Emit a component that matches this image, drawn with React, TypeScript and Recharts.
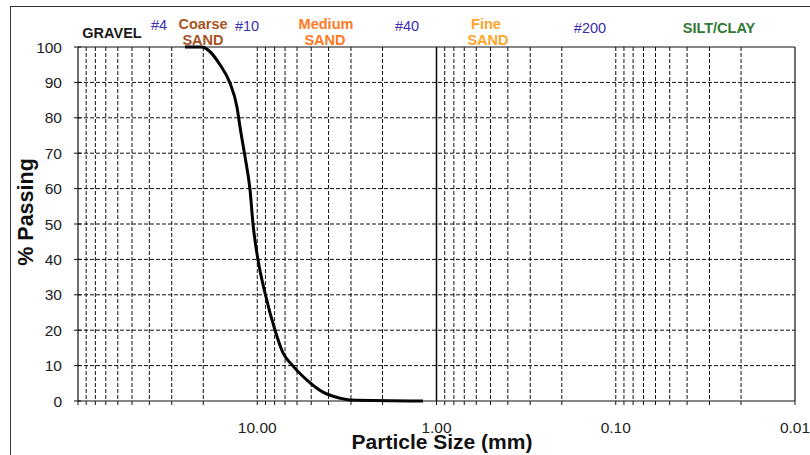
import { LineChart, Line, XAxis, YAxis, CartesianGrid, ReferenceLine } from 'recharts'

// particle size (mm) and % passing
const sizes = [25.3, 20.5, 16.1, 14.2, 12.97, 12.48, 11.7, 10.97, 10.56, 9.9, 9.05, 7.96, 7.18, 6.4, 5.28, 4.3, 3.45, 3.04, 1.19]
const passing = [100, 100, 94.9, 89.8, 83, 77.4, 69, 59.6, 50, 39.8, 30.5, 20, 13.6, 10.2, 5.9, 2.5, 0.8, 0.3, 0]

const decades = [100, 10, 1, 0.1, 0.01]
const decadeLabels = ['', '10.00', '1.00', '0.10', '0.01']
const minorSteps = [2, 3, 4, 5, 6, 7, 8, 9]
const yTicks = [0, 10, 20, 30, 40, 50, 60, 70, 80, 90, 100]

const data = sizes.map((s, i) => ({ size: s, pct: passing[i] }))
const minorTicks = decades.slice(1).flatMap(d => minorSteps.map(m => +(d * m).toPrecision(3)))
const xTicks = [...decades, ...minorTicks].sort((a, b) => b - a)

const W = 810
const H = 455
const PLOT = { left: 78, top: 47, right: 795, bottom: 401 }
const FONT = '"Liberation Sans", Arial, sans-serif'
const DASH = '4 2'

const labelFor = (v: number) => {
  const i = decades.findIndex(d => Math.abs(d - v) < 1e-9)
  return i >= 0 ? decadeLabels[i] : ''
}

// eslint-disable-next-line @typescript-eslint/no-explicit-any
const XTick = (props: any) => {
  const x = props.payload.coordinate
  const label = labelFor(props.payload.value)
  return (
    <g>
      <line x1={x} x2={x} y1={PLOT.bottom} y2={PLOT.bottom + 4} stroke="#111" strokeWidth={1} />
      {label && (
        <text x={x} y={PLOT.bottom + 32} textAnchor="middle" fontSize={15.5} fill="#222" fontFamily={FONT}>
          {label}
        </text>
      )}
    </g>
  )
}

// eslint-disable-next-line @typescript-eslint/no-explicit-any
const YTick = (props: any) => {
  const y = props.payload.coordinate
  return (
    <g>
      <line x1={PLOT.left - 4} x2={PLOT.left + 3} y1={y} y2={y} stroke="#111" strokeWidth={1} />
      <text x={62} y={y} dy="0.36em" textAnchor="end" fontSize={15.5} fill="#222" fontFamily={FONT}>
        {props.payload.value}
      </text>
    </g>
  )
}

const Note = ({ x, y, color, bold = true, children }: { x: number; y: number; color: string; bold?: boolean; children: React.ReactNode }) => (
  <div
    style={{
      position: 'absolute',
      left: x,
      top: y,
      transform: 'translate(-50%, -50%)',
      color,
      fontWeight: bold ? 700 : 400,
      fontSize: 14.5,
      lineHeight: 1,
      whiteSpace: 'nowrap',
      fontFamily: FONT,
    }}
  >
    {children}
  </div>
)

export default function App() {
  return (
    <div style={{ position: 'absolute', left: 0, top: 0, width: W, height: H, overflow: 'hidden', background: '#fff', fontFamily: FONT }}>
      <div style={{ position: 'absolute', left: 10, top: 6, width: W, height: H, borderTop: '1.5px solid #333', borderLeft: '1.5px solid #333' }} />
      <LineChart
        width={W}
        height={H}
        data={data}
        margin={{ top: PLOT.top, right: W - PLOT.right, bottom: 0, left: 0 }}
      >
        <CartesianGrid
          stroke="#111"
          strokeDasharray={DASH}
          verticalValues={minorTicks.concat([10, 0.1])}
          horizontalValues={yTicks.slice(1, -1)}
        />
        <XAxis
          dataKey="size"
          type="number"
          scale="log"
          domain={[0.01, 100]}
          reversed
          allowDataOverflow
          ticks={xTicks}
          interval={0}
          height={H - PLOT.bottom}
          axisLine={{ stroke: '#111', strokeWidth: 1.2 }}
          tickLine={false}
          tick={<XTick />}
        />
        <YAxis
          type="number"
          domain={[0, 100]}
          ticks={yTicks}
          interval={0}
          width={PLOT.left}
          axisLine={{ stroke: '#111', strokeWidth: 1.2 }}
          tickLine={false}
          tick={<YTick />}
        />
        <ReferenceLine y={100} stroke="#111" strokeWidth={1.2} />
        <ReferenceLine x={0.01} stroke="#111" strokeWidth={1.2} />
        <ReferenceLine x={1} stroke="#111" strokeWidth={1.6} />
        <Line
          dataKey="pct"
          type="monotone"
          stroke="#000"
          strokeWidth={3}
          dot={false}
          isAnimationActive={false}
        />
      </LineChart>

      <Note x={112} y={33} color="#1a1a1a">GRAVEL</Note>
      <Note x={159} y={25} color="#3a30b0" bold={false}>#4</Note>
      <Note x={203} y={24} color="#a8521f">Coarse</Note>
      <Note x={203} y={40} color="#a8521f">SAND</Note>
      <Note x={247} y={26} color="#3a30b0" bold={false}>#10</Note>
      <Note x={326} y={24} color="#ff7a1f">Medium</Note>
      <Note x={325} y={40} color="#ff7a1f">SAND</Note>
      <Note x={407} y={26} color="#3a30b0" bold={false}>#40</Note>
      <Note x={486} y={24} color="#ffa52a">Fine</Note>
      <Note x={488} y={40} color="#ffa52a">SAND</Note>
      <Note x={590} y={28} color="#3a30b0" bold={false}>#200</Note>
      <Note x={719} y={28} color="#2f7a32">SILT/CLAY</Note>

      <div
        style={{
          position: 'absolute',
          left: 27,
          top: 212,
          transform: 'translate(-50%, -50%) rotate(-90deg)',
          fontWeight: 700,
          fontSize: 21.5,
          lineHeight: 1,
          whiteSpace: 'nowrap',
          color: '#111',
        }}
      >
        % Passing
      </div>
      <div
        style={{
          position: 'absolute',
          left: 442,
          top: 441,
          transform: 'translate(-50%, -50%)',
          fontWeight: 700,
          fontSize: 21,
          lineHeight: 1,
          whiteSpace: 'nowrap',
          color: '#111',
        }}
      >
        Particle Size (mm)
      </div>
    </div>
  )
}
